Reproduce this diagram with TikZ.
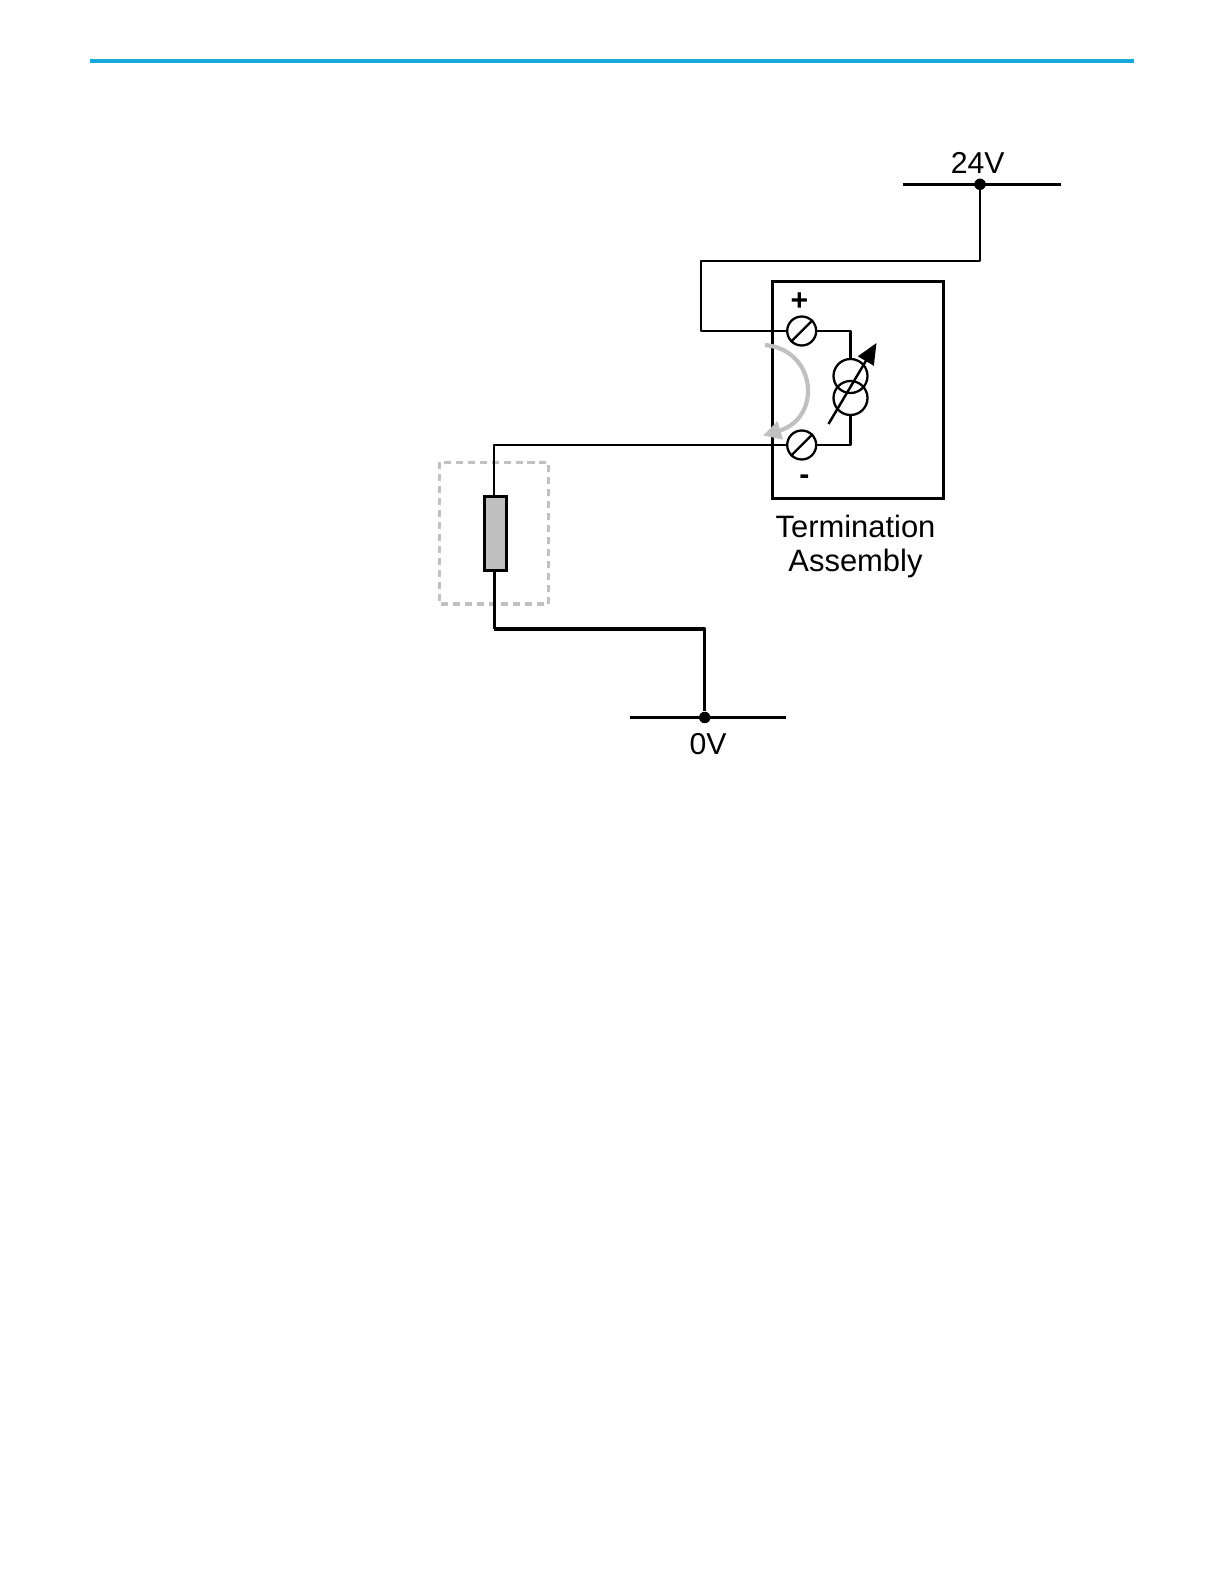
\documentclass[tikz,border=0pt]{standalone}
\usepackage{fontspec}
\setmainfont{Liberation Sans}
\usetikzlibrary{arrows.meta}
\definecolor{rulecyan}{HTML}{15A9DC}
\definecolor{markgray}{HTML}{C0C0C0}
\tikzset{
  wire/.style={draw=black,line width=1.3pt,line join=round},
  heavywire/.style={draw=black,line width=2pt,line join=round},
  terminal/.style={circle,draw=black,line width=1.3pt,inner sep=0pt,minimum size=0.58cm},
  source/.style={circle,draw=black,line width=1.3pt,inner sep=0pt,minimum size=0.68cm},
  railtext/.style={inner sep=0pt,font=\fontsize{17.2}{20}\selectfont},
  railpoint/.style={circle,fill=black,inner sep=0pt,minimum size=0.23cm}
}
\begin{document}
\begin{tikzpicture}[x=0.02cm,y=-0.02cm]
\useasboundingbox (0,0) rectangle (1224,1584);
\draw[rulecyan,line width=2.3pt] (90,61) -- (1134,61);

\node[draw=black,line width=1.8pt,minimum width=3.41cm,minimum height=4.34cm,inner sep=0pt] (termbox) at (858,390) {};
\node[terminal] (plus) at (801.7,331) {};
\node[terminal] (minus) at (801.7,445) {};
\draw[line width=1.3pt] (plus.225) -- (plus.45);
\draw[line width=1.3pt] (minus.225) -- (minus.45);
\node[source] (upper) at (850.5,376) {};
\node[source] (lower) at (850.5,398) {};
\node[railtext,font=\fontsize{17.2}{20}\bfseries] at (799.5,302) {+};
\node[railtext,font=\fontsize{17.2}{20}\bfseries] at (804.5,479.5) {-};
\draw[line width=1.4pt,-{Triangle[length=0.42cm,width=0.36cm]}] (828.5,424) -- (876.5,343);

% supply side
\coordinate (railAleft) at (902.7,184.3);
\coordinate (railAright) at (1061,184.3);
\node[railpoint] (railA) at (980,184.3) {};
\draw[heavywire,line width=1.6pt] (railAleft) -- (railAright);
\coordinate (corner) at (700.7,261);
\draw[wire] (railA) |- (corner) |- (plus.west);
\draw[wire] (plus.east) -| (upper.north);
\draw[wire] (lower.south) |- (minus.east);
\node[railtext] at (977.7,163) {24V};

% loop
\draw[markgray,line width=1.8pt,dash pattern=on 4pt off 2.8pt] (439.3,462.3) rectangle (548.3,604);
\node[draw=black,fill=markgray,line width=1.8pt,minimum width=0.44cm,minimum height=1.48cm,inner sep=0pt] (load) at (495.8,533.5) {};
\draw[wire] (minus.west) -| (load.north -| 494.3,0);
\coordinate (loopcorner) at (494.3,629);
\draw[heavywire] (load.south -| loopcorner) -- (loopcorner);
\node[railpoint] (railB) at (704.7,717.5) {};
\draw[heavywire] (loopcorner) -| (railB);
\coordinate (railBleft) at (629.5,717.5);
\coordinate (railBright) at (786,717.5);
\draw[wire] (railBleft) -- (railBright);
\node[railtext] at (708,744) {0V};

\node[railtext,align=center,font=\fontsize{17.6}{19.6}\selectfont] (termtext) at (855.5,546.5) {Termination\\Assembly};

\draw[markgray,line width=2.4pt,-{Triangle[length=0.36cm,width=0.36cm]}] (765,345) .. controls (817,350) and (822,418) .. (763,435.5);
\end{tikzpicture}
\end{document}
